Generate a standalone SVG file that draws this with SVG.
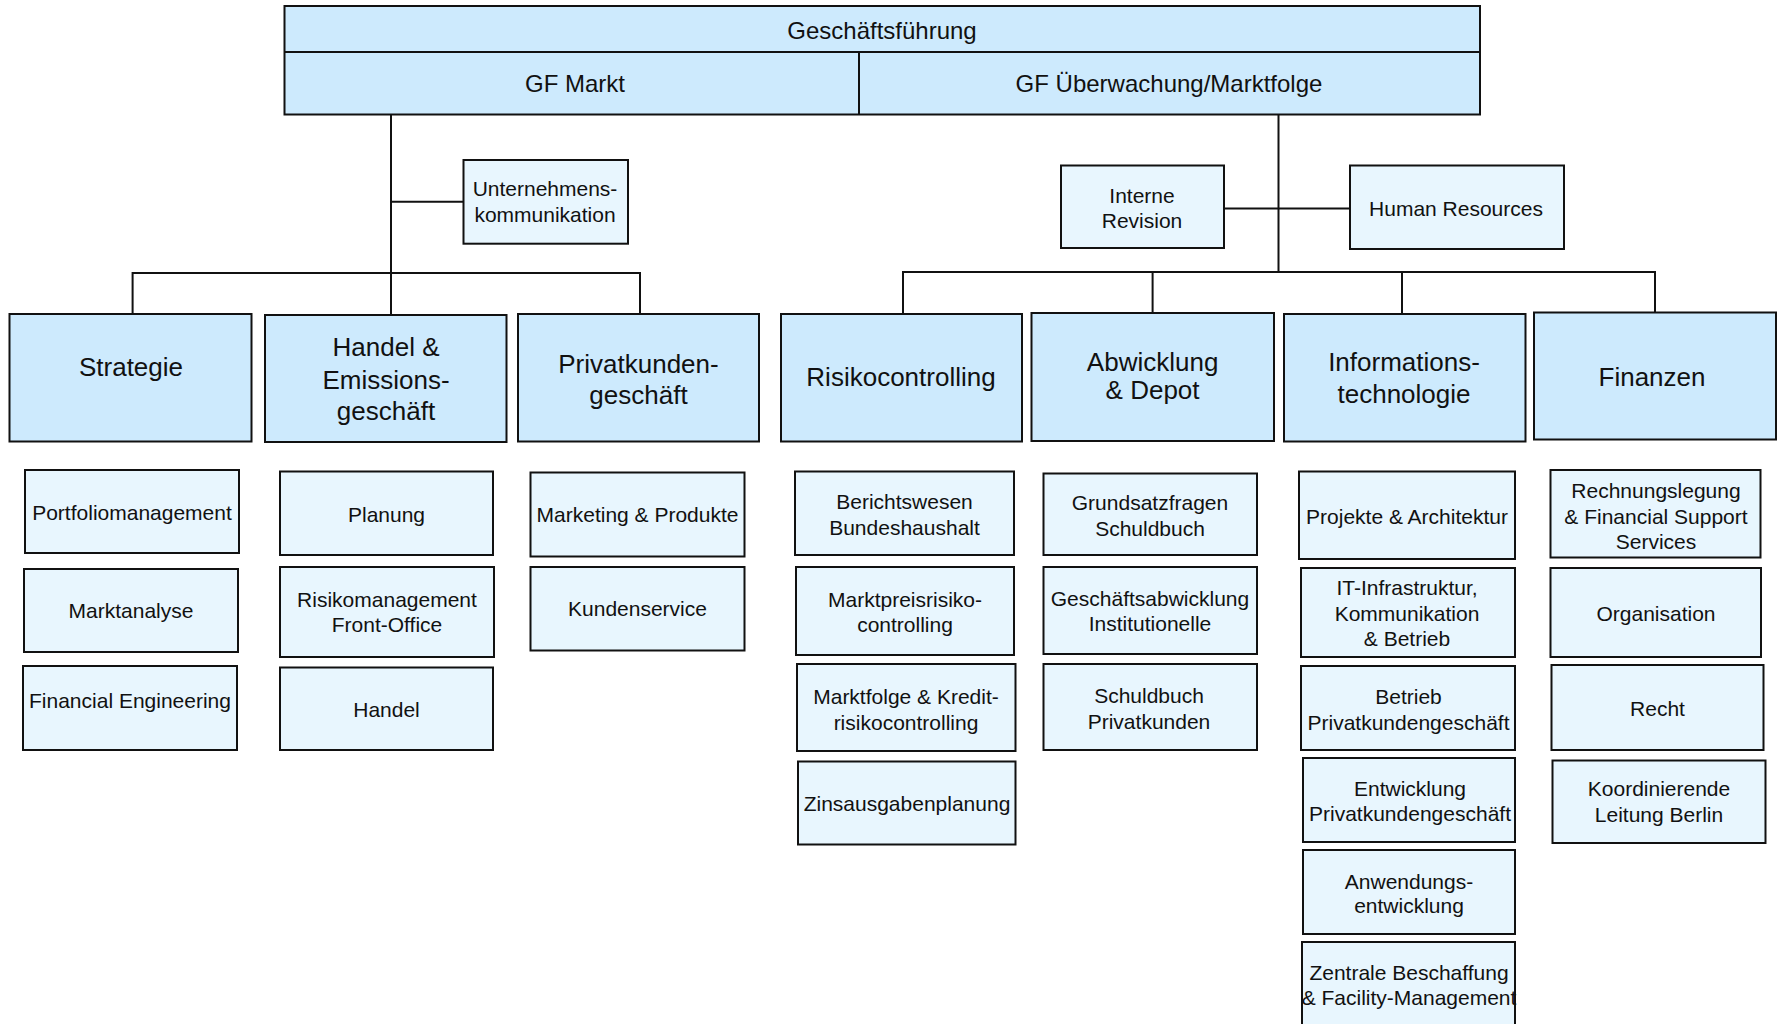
<svg xmlns="http://www.w3.org/2000/svg" width="1777" height="1024" viewBox="0 0 1777 1024">
  <style>
    text { font-family: "Liberation Sans", Arial, sans-serif; fill: #111; text-anchor: middle; }
    .head { fill: #cdeafd; stroke: #111; stroke-width: 2; }
    .unit { fill: #cdeafd; stroke: #111; stroke-width: 2; }
    .sub { fill: #e8f6fe; stroke: #111; stroke-width: 2; }
    .t24 { font-size: 24px; }
    .t26 { font-size: 26px; }
    .t21 { font-size: 21px; }
    .wire { fill: none; stroke: #111; stroke-width: 2; }
  </style>

  <!-- management board -->
  <g id="geschaeftsfuehrung">
    <rect class="head" x="284.5" y="6" width="1195.5" height="108.5"/>
    <line class="wire" x1="284.5" y1="52" x2="1480" y2="52"/>
    <line class="wire" x1="859" y1="52" x2="859" y2="114.5"/>
    <text class="t24" x="882" y="38.5">Geschäftsführung</text>
  </g>
  <g id="gf-markt">
    <text class="t24" x="575" y="92">GF Markt</text>
  </g>
  <g id="gf-ueberwachung">
    <text class="t24" x="1169" y="92">GF Überwachung/Marktfolge</text>
  </g>

  <!-- connectors -->
  <g id="connectors">
    <path class="wire" d="M391 114.5 V315"/>
    <path class="wire" d="M391 201.7 H463.5"/>
    <path class="wire" d="M132.6 314 V273 H640 V314"/>
    <path class="wire" d="M1278.5 114.5 V272"/>
    <path class="wire" d="M1224 208.5 H1350"/>
    <path class="wire" d="M903 314 V272 H1655 V313"/>
    <path class="wire" d="M1152.6 272 V313"/>
    <path class="wire" d="M1402 272 V314"/>
  </g>

  <!-- staff units -->
  <g id="unternehmenskommunikation">
    <rect class="sub" x="463.5" y="160" width="164.5" height="83.7"/>
    <text class="t21" x="545" y="196">Unternehmens-</text>
    <text class="t21" x="545" y="222">kommunikation</text>
  </g>
  <g id="interne-revision">
    <rect class="sub" x="1061" y="165.5" width="163" height="82.5"/>
    <text class="t21" x="1142" y="202.5">Interne</text>
    <text class="t21" x="1142" y="227.5">Revision</text>
  </g>
  <g id="human-resources">
    <rect class="sub" x="1350" y="165.5" width="214" height="83.5"/>
    <text class="t21" x="1456" y="215.5">Human Resources</text>
  </g>

  <!-- divisions -->
  <g id="strategie">
    <rect class="unit" x="9.5" y="314" width="242" height="127.5"/>
    <text class="t26" x="131" y="375.5">Strategie</text>
  </g>
  <g id="handel-emission">
    <rect class="unit" x="265" y="315" width="241.5" height="127"/>
    <text class="t26" x="386" y="355.5">Handel &amp;</text>
    <text class="t26" x="386" y="388.5">Emissions-</text>
    <text class="t26" x="386" y="419.5">geschäft</text>
  </g>
  <g id="privatkundengeschaeft">
    <rect class="unit" x="518" y="314" width="241" height="127.5"/>
    <text class="t26" x="638.5" y="372.5">Privatkunden-</text>
    <text class="t26" x="638.5" y="404">geschäft</text>
  </g>
  <g id="risikocontrolling">
    <rect class="unit" x="781" y="314" width="241" height="127.5"/>
    <text class="t26" x="901" y="385.5">Risikocontrolling</text>
  </g>
  <g id="abwicklung-depot">
    <rect class="unit" x="1031.5" y="313" width="242.5" height="128"/>
    <text class="t26" x="1152.6" y="371">Abwicklung</text>
    <text class="t26" x="1152.6" y="398.5">&amp; Depot</text>
  </g>
  <g id="informationstechnologie">
    <rect class="unit" x="1284" y="314" width="241.5" height="127.5"/>
    <text class="t26" x="1404" y="371">Informations-</text>
    <text class="t26" x="1404" y="402.5">technologie</text>
  </g>
  <g id="finanzen">
    <rect class="unit" x="1534" y="312.5" width="242" height="127"/>
    <text class="t26" x="1652" y="385.5">Finanzen</text>
  </g>

  <!-- Strategie units -->
  <g id="portfoliomanagement">
    <rect class="sub" x="25" y="470" width="214" height="83"/>
    <text class="t21" x="132" y="519.5">Portfoliomanagement</text>
  </g>
  <g id="marktanalyse">
    <rect class="sub" x="24" y="569" width="214" height="83"/>
    <text class="t21" x="131" y="617.5">Marktanalyse</text>
  </g>
  <g id="financial-engineering">
    <rect class="sub" x="23" y="666" width="214" height="84"/>
    <text class="t21" x="130" y="708">Financial Engineering</text>
  </g>

  <!-- Handel units -->
  <g id="planung">
    <rect class="sub" x="280" y="471.5" width="213" height="83.5"/>
    <text class="t21" x="386.5" y="522">Planung</text>
  </g>
  <g id="risikomanagement-fo">
    <rect class="sub" x="280" y="567" width="214" height="90"/>
    <text class="t21" x="387" y="607">Risikomanagement</text>
    <text class="t21" x="387" y="632">Front-Office</text>
  </g>
  <g id="handel">
    <rect class="sub" x="280" y="667.5" width="213" height="82.5"/>
    <text class="t21" x="386.5" y="717">Handel</text>
  </g>

  <!-- Privatkunden units -->
  <g id="marketing-produkte">
    <rect class="sub" x="530.5" y="472.5" width="214" height="84"/>
    <text class="t21" x="637.5" y="522">Marketing &amp; Produkte</text>
  </g>
  <g id="kundenservice">
    <rect class="sub" x="530.5" y="567" width="214" height="83.5"/>
    <text class="t21" x="637.5" y="616">Kundenservice</text>
  </g>

  <!-- Risikocontrolling units -->
  <g id="berichtswesen">
    <rect class="sub" x="795" y="471.5" width="219" height="83.5"/>
    <text class="t21" x="904.5" y="508.5">Berichtswesen</text>
    <text class="t21" x="904.5" y="534.5">Bundeshaushalt</text>
  </g>
  <g id="marktpreisrisikocontrolling">
    <rect class="sub" x="796" y="567" width="218" height="88"/>
    <text class="t21" x="905" y="607">Marktpreisrisiko-</text>
    <text class="t21" x="905" y="632">controlling</text>
  </g>
  <g id="marktfolge-kreditrisiko">
    <rect class="sub" x="797" y="664" width="218.5" height="87"/>
    <text class="t21" x="906" y="703.5">Marktfolge &amp; Kredit-</text>
    <text class="t21" x="906" y="729.5">risikocontrolling</text>
  </g>
  <g id="zinsausgabenplanung">
    <rect class="sub" x="798" y="761.5" width="217.5" height="83"/>
    <text class="t21" x="907" y="811">Zinsausgabenplanung</text>
  </g>

  <!-- Abwicklung units -->
  <g id="grundsatzfragen">
    <rect class="sub" x="1043.5" y="473.5" width="213.5" height="81.5"/>
    <text class="t21" x="1150" y="509.5">Grundsatzfragen</text>
    <text class="t21" x="1150" y="535.5">Schuldbuch</text>
  </g>
  <g id="geschaeftsabwicklung">
    <rect class="sub" x="1043.5" y="567" width="213.5" height="87"/>
    <text class="t21" x="1150" y="606">Geschäftsabwicklung</text>
    <text class="t21" x="1150" y="631">Institutionelle</text>
  </g>
  <g id="schuldbuch-privatkunden">
    <rect class="sub" x="1043.5" y="664" width="213.5" height="86"/>
    <text class="t21" x="1149" y="702.5">Schuldbuch</text>
    <text class="t21" x="1149" y="728.5">Privatkunden</text>
  </g>

  <!-- IT units -->
  <g id="projekte-architektur">
    <rect class="sub" x="1299" y="471.5" width="216" height="87.5"/>
    <text class="t21" x="1407" y="523.5">Projekte &amp; Architektur</text>
  </g>
  <g id="it-infrastruktur">
    <rect class="sub" x="1301" y="568" width="214" height="89"/>
    <text class="t21" x="1407" y="594.5">IT-Infrastruktur,</text>
    <text class="t21" x="1407" y="620.5">Kommunikation</text>
    <text class="t21" x="1407" y="645.5">&amp; Betrieb</text>
  </g>
  <g id="betrieb-pk">
    <rect class="sub" x="1301" y="666" width="214" height="84"/>
    <text class="t21" x="1408.5" y="703.5">Betrieb</text>
    <text class="t21" x="1408.5" y="729.5">Privatkundengeschäft</text>
  </g>
  <g id="entwicklung-pk">
    <rect class="sub" x="1303" y="758" width="212" height="84"/>
    <text class="t21" x="1410" y="795.5">Entwicklung</text>
    <text class="t21" x="1410" y="820.5">Privatkundengeschäft</text>
  </g>
  <g id="anwendungsentwicklung">
    <rect class="sub" x="1303" y="850" width="212" height="84"/>
    <text class="t21" x="1409" y="888.5">Anwendungs-</text>
    <text class="t21" x="1409" y="913">entwicklung</text>
  </g>
  <g id="zentrale-beschaffung">
    <rect class="sub" x="1302" y="942" width="213" height="92"/>
    <text class="t21" x="1409" y="980">Zentrale Beschaffung</text>
    <text class="t21" x="1409" y="1005">&amp; Facility-Management</text>
  </g>

  <!-- Finanzen units -->
  <g id="rechnungslegung">
    <rect class="sub" x="1550.5" y="470" width="210" height="87.5"/>
    <text class="t21" x="1656" y="497.5">Rechnungslegung</text>
    <text class="t21" x="1656" y="523.5">&amp; Financial Support</text>
    <text class="t21" x="1656" y="548.5">Services</text>
  </g>
  <g id="organisation">
    <rect class="sub" x="1550.5" y="568" width="210.5" height="89"/>
    <text class="t21" x="1656" y="620.5">Organisation</text>
  </g>
  <g id="recht">
    <rect class="sub" x="1551.5" y="665" width="212" height="85"/>
    <text class="t21" x="1657.5" y="716">Recht</text>
  </g>
  <g id="koordinierende-leitung">
    <rect class="sub" x="1552.5" y="760.5" width="213" height="82.5"/>
    <text class="t21" x="1659" y="795.5">Koordinierende</text>
    <text class="t21" x="1659" y="821.5">Leitung Berlin</text>
  </g>
</svg>
